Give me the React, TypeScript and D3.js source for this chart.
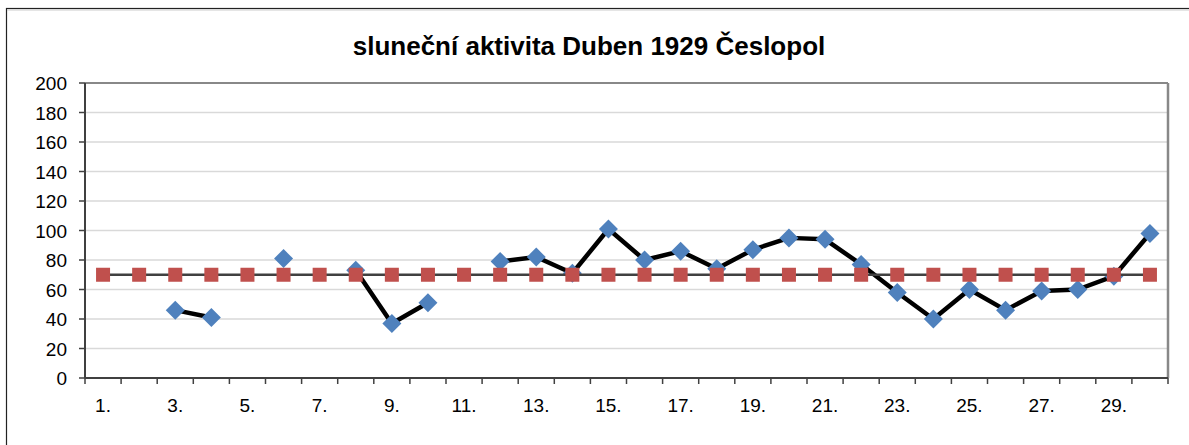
import * as d3 from 'd3';

const days = d3.range(1, 31);
const dayLabels = days.map((d) => (d % 2 === 1 ? `${d}.` : ''));
const activity: (number | null)[] = [
  null, null, 46, 41, null, 81, null, 73, 37, 51,
  null, 79, 82, 71, 101, 80, 86, 74, 87, 95,
  94, 77, 58, 40, 60, 46, 59, 60, 69, 98,
];
const average = days.map(() => 70);
const yTicks = d3.range(0, 201, 20);

const W = 1189;
const H = 445;
const left = 85;
const right = 1168;
const top = 83;
const bottom = 378;
const font = 'Liberation Sans, Arial, sans-serif';

export default function App() {
  const x = d3.scaleBand<number>().domain(days).range([left, right]);
  const y = d3.scaleLinear().domain([0, 200]).range([bottom, top]);
  const cx = (d: number) => (x(d) ?? 0) + x.bandwidth() / 2;

  const blueLine = d3
    .line<number | null>()
    .defined((v) => v !== null)
    .x((_, i) => cx(days[i]))
    .y((v) => y(v as number));
  const redLine = d3
    .line<number>()
    .x((_, i) => cx(days[i]))
    .y((v) => y(v));

  return (
    <svg
      width={W}
      height={H}
      style={{ position: 'absolute', left: 0, top: 0, background: '#fff' }}
    >
      {/* outer chart frame */}
      <rect x={6.5} y={8.5} width={W} height={H} fill="none" stroke="#222" strokeWidth={1.2} />
      <line x1={7} x2={W} y1={10} y2={10} stroke="#ccc" strokeWidth={1} />

      <text
        x={589}
        y={55}
        textAnchor="middle"
        fontFamily={font}
        fontWeight="bold"
        fontSize={26}
        fill="#000"
      >
        sluneční aktivita Duben 1929 Česlopol
      </text>

      {/* gridlines */}
      {yTicks.map((t) => (
        <line key={t} x1={left} x2={right} y1={y(t)} y2={y(t)} stroke="#d9d9d9" strokeWidth={1.5} />
      ))}
      {/* plot frame top/right */}
      <line x1={left} x2={right} y1={top} y2={top} stroke="#888" strokeWidth={2} />
      <line x1={right} x2={right} y1={top} y2={bottom} stroke="#888" strokeWidth={2.5} />

      {/* y axis */}
      <line x1={left} x2={left} y1={top} y2={bottom} stroke="#404040" strokeWidth={2} />
      {yTicks.map((t) => (
        <g key={t}>
          <line x1={left - 6} x2={left} y1={y(t)} y2={y(t)} stroke="#404040" strokeWidth={1.5} />
          <text
            x={67}
            y={y(t) + 7}
            textAnchor="end"
            fontFamily={font}
            fontSize={19}
            fill="#000"
          >
            {t}
          </text>
        </g>
      ))}

      {/* x axis */}
      <line x1={left} x2={right} y1={bottom} y2={bottom} stroke="#404040" strokeWidth={2} />
      {[...days, 31].map((d, i) => {
        const xx = left + i * x.bandwidth();
        return <line key={d} x1={xx} x2={xx} y1={bottom} y2={bottom + 6} stroke="#404040" strokeWidth={1.5} />;
      })}
      {days.map((d, i) =>
        dayLabels[i] ? (
          <text
            key={d}
            x={cx(d)}
            y={412}
            textAnchor="middle"
            fontFamily={font}
            fontSize={19}
            fill="#000"
          >
            {dayLabels[i]}
          </text>
        ) : null
      )}

      {/* activity series */}
      <path d={blueLine(activity) ?? ''} fill="none" stroke="#000" strokeWidth={4.5} strokeLinejoin="round" />
      {activity.map((v, i) =>
        v === null ? null : (
          <path
            key={i}
            d="M0,-9.5L9.5,0L0,9.5L-9.5,0Z"
            transform={`translate(${cx(days[i])},${y(v)})`}
            fill="#4f81bd"
          />
        )
      )}

      {/* average series */}
      <path d={redLine(average) ?? ''} fill="none" stroke="#404040" strokeWidth={2.5} />
      {average.map((v, i) => (
        <rect key={i} x={cx(days[i]) - 7} y={y(v) - 7} width={14} height={14} fill="#c0504d" />
      ))}
    </svg>
  );
}
